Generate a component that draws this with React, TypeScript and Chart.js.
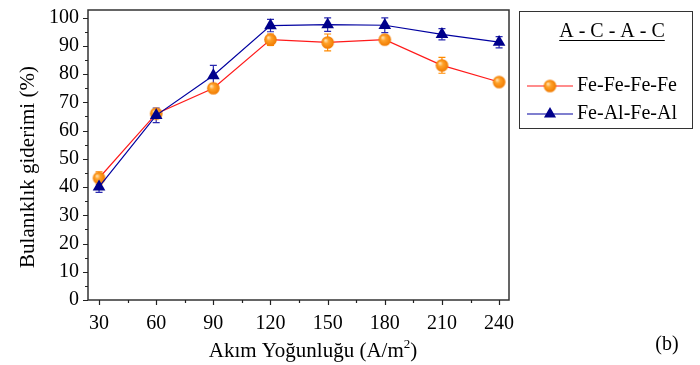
import React, { useEffect, useRef } from "react";
import { Chart, registerables } from "chart.js";

Chart.register(...registerables);

// ---- data ----
const currentDensity = [30, 60, 90, 120, 150, 180, 210, 240];
const feFeFeFe = [43.2, 66.0, 75.0, 92.2, 91.2, 92.2, 83.1, 77.2];
const feFeFeFeErr = [2.2, 1.0, 1.5, 2.0, 3.0, 1.5, 2.8, 0.5];
const feAlFeAl = [40.1, 65.4, 79.5, 97.2, 97.5, 97.3, 94.1, 91.3];
const feAlFeAlErr = [2.0, 2.6, 3.6, 2.2, 2.4, 2.6, 2.0, 2.0];
const xTicks = [30, 60, 90, 120, 150, 180, 210, 240];
const xMinorTicks = [45, 75, 105, 135, 165, 195, 225];
const yTicks = [0, 10, 20, 30, 40, 50, 60, 70, 80, 90, 100];
const yMinorTicks = [5, 15, 25, 35, 45, 55, 65, 75, 85, 95];
const seriesNames = ["Fe-Fe-Fe-Fe", "Fe-Al-Fe-Al"];
const legendTitle = "A - C - A - C";
const xTitleMain = "Akım Yoğunluğu (A/m";
const xTitleSup = "2";
const xTitleEnd = ")";
const yTitle = "Bulanıklık giderimi (%)";
const panelLabel = "(b)";

const FONT = "'Liberation Serif', 'Times New Roman', serif";
const RED = "#ff1a1a";
const ORANGE = "#ff8a00";
const BLUE = "#0000a0";
const DARKBLUE = "#00008b";

function makeSphere(r: number) {
  const c = document.createElement("canvas");
  const s = Math.ceil(r * 2 + 2);
  c.width = s;
  c.height = s;
  const g = c.getContext("2d")!;
  const cx = s / 2, cy = s / 2;
  const grad = g.createRadialGradient(cx - r * 0.35, cy - r * 0.35, 0.5, cx, cy, r);
  grad.addColorStop(0, "#ffe2b0");
  grad.addColorStop(0.35, "#ffa22a");
  grad.addColorStop(1, "#f07a00");
  g.fillStyle = grad;
  g.beginPath();
  g.arc(cx, cy, r, 0, Math.PI * 2);
  g.fill();
  return c;
}

function drawTriangle(ctx: CanvasRenderingContext2D, x: number, y: number, r: number, color: string) {
  ctx.save();
  ctx.fillStyle = color;
  ctx.beginPath();
  for (let i = 0; i < 3; i++) {
    const a = (i * 2 * Math.PI) / 3;
    const px = x + Math.sin(a) * r;
    const py = y - Math.cos(a) * r;
    if (i === 0) ctx.moveTo(px, py);
    else ctx.lineTo(px, py);
  }
  ctx.closePath();
  ctx.fill();
  ctx.restore();
}

export default function App() {
  const ref = useRef<HTMLCanvasElement | null>(null);

  useEffect(() => {
    if (!ref.current) return;
    const sphere = makeSphere(6.3);

    const decorPlugin = {
      id: "decor",
      beforeDatasetsDraw(chart: any) {
        const ctx = chart.ctx as CanvasRenderingContext2D;
        const xs = chart.scales.x;
        const ys = chart.scales.y;
        const sets = [
          { v: feFeFeFe, e: feFeFeFeErr, c: ORANGE },
          { v: feAlFeAl, e: feAlFeAlErr, c: "#2a2ab0" },
        ];
        ctx.save();
        ctx.lineWidth = 1.2;
        sets.forEach((s) => {
          ctx.strokeStyle = s.c;
          currentDensity.forEach((xv, i) => {
            const px = xs.getPixelForValue(xv);
            const top = ys.getPixelForValue(s.v[i] + s.e[i]);
            const bot = ys.getPixelForValue(s.v[i] - s.e[i]);
            ctx.beginPath();
            ctx.moveTo(px, top);
            ctx.lineTo(px, bot);
            ctx.moveTo(px - 3.5, top);
            ctx.lineTo(px + 3.5, top);
            ctx.moveTo(px - 3.5, bot);
            ctx.lineTo(px + 3.5, bot);
            ctx.stroke();
          });
        });
        ctx.restore();
      },
      afterDraw(chart: any) {
        const ctx = chart.ctx as CanvasRenderingContext2D;
        const a = chart.chartArea;
        const xs = chart.scales.x;
        const ys = chart.scales.y;
        ctx.save();
        // frame
        ctx.strokeStyle = "#333";
        ctx.lineWidth = 1.5;
        ctx.strokeRect(a.left, a.top, a.right - a.left, a.bottom - a.top);
        // ticks
        ctx.lineWidth = 1.2;
        ctx.strokeStyle = "#222";
        ctx.beginPath();
        xTicks.forEach((v) => {
          const p = Math.round(xs.getPixelForValue(v)) + 0.5;
          ctx.moveTo(p, a.bottom);
          ctx.lineTo(p, a.bottom + 5);
        });
        xMinorTicks.forEach((v) => {
          const p = Math.round(xs.getPixelForValue(v)) + 0.5;
          ctx.moveTo(p, a.bottom);
          ctx.lineTo(p, a.bottom + 3);
        });
        yTicks.forEach((v) => {
          const p = Math.round(ys.getPixelForValue(v)) + 0.5;
          ctx.moveTo(a.left, p);
          ctx.lineTo(a.left - 5, p);
        });
        yMinorTicks.forEach((v) => {
          const p = Math.round(ys.getPixelForValue(v)) + 0.5;
          ctx.moveTo(a.left, p);
          ctx.lineTo(a.left - 3, p);
        });
        ctx.stroke();

        // axis titles
        ctx.fillStyle = "#000";
        ctx.font = `21px ${FONT}`;
        ctx.textBaseline = "alphabetic";
        const wMain = ctx.measureText(xTitleMain).width;
        ctx.font = `13px ${FONT}`;
        const wSup = ctx.measureText(xTitleSup).width;
        ctx.font = `21px ${FONT}`;
        const wEnd = ctx.measureText(xTitleEnd).width;
        const total = wMain + wSup + wEnd;
        const cx = 313;
        const x0 = cx - total / 2;
        const base = 357;
        ctx.textAlign = "left";
        ctx.fillText(xTitleMain, x0, base);
        ctx.font = `13px ${FONT}`;
        ctx.fillText(xTitleSup, x0 + wMain, base - 9);
        ctx.font = `21px ${FONT}`;
        ctx.fillText(xTitleEnd, x0 + wMain + wSup, base);

        ctx.save();
        ctx.translate(34, 167);
        ctx.rotate(-Math.PI / 2);
        ctx.textAlign = "center";
        ctx.fillText(yTitle, 0, 0);
        ctx.restore();

        // panel label
        ctx.font = `20px ${FONT}`;
        ctx.textAlign = "center";
        ctx.fillText(panelLabel, 667, 350);

        // legend box
        ctx.strokeStyle = "#333";
        ctx.lineWidth = 1;
        ctx.strokeRect(519.5, 11.5, 173, 117);
        ctx.font = `20px ${FONT}`;
        ctx.textAlign = "center";
        ctx.fillText(legendTitle, 612, 37);
        const tw = ctx.measureText(legendTitle).width;
        ctx.beginPath();
        ctx.lineWidth = 1;
        ctx.strokeStyle = "#000";
        ctx.moveTo(612 - tw / 2, 40.5);
        ctx.lineTo(612 + tw / 2, 40.5);
        ctx.stroke();

        // entries
        ctx.lineWidth = 1.2;
        ctx.strokeStyle = RED;
        ctx.beginPath();
        ctx.moveTo(527, 86);
        ctx.lineTo(573, 86);
        ctx.stroke();
        ctx.drawImage(sphere, 550 - sphere.width / 2, 86 - sphere.height / 2);
        ctx.strokeStyle = BLUE;
        ctx.beginPath();
        ctx.moveTo(527, 114);
        ctx.lineTo(573, 114);
        ctx.stroke();
        drawTriangle(ctx, 550, 114, 7, DARKBLUE);
        ctx.fillStyle = "#000";
        ctx.textAlign = "left";
        ctx.textBaseline = "middle";
        ctx.fillText(seriesNames[0], 577, 86);
        ctx.fillText(seriesNames[1], 577, 114);
        ctx.restore();
      },
    };

    const tickFont = { family: FONT, size: 20 };

    const chart = new Chart(ref.current, {
      type: "line",
      data: {
        datasets: [
          {
            label: seriesNames[0],
            data: currentDensity.map((x, i) => ({ x, y: feFeFeFe[i] })),
            borderColor: RED,
            borderWidth: 1.2,
            pointStyle: sphere as any,
            pointRadius: 6,
            order: 1,
          },
          {
            label: seriesNames[1],
            data: currentDensity.map((x, i) => ({ x, y: feAlFeAl[i] })),
            borderColor: BLUE,
            borderWidth: 1.2,
            backgroundColor: DARKBLUE,
            pointBackgroundColor: DARKBLUE,
            pointBorderColor: DARKBLUE,
            pointBorderWidth: 0,
            pointStyle: "triangle",
            pointRadius: 7.3,
            order: 0,
          },
        ],
      },
      options: {
        animation: false,
        responsive: false,
        devicePixelRatio: 1,
        layout: { padding: { left: 8, right: 191, top: 10, bottom: 0 } },
        plugins: { legend: { display: false }, tooltip: { enabled: false } },
        scales: {
          x: {
            type: "linear",
            min: 24.2,
            max: 245.2,
            grid: { display: false, drawTicks: false },
            border: { display: false },
            ticks: { font: tickFont, color: "#000", padding: 12, maxRotation: 0, autoSkip: false },
            afterBuildTicks: (s: any) => {
              s.ticks = xTicks.map((v) => ({ value: v }));
            },
            afterFit: (s: any) => {
              s.height = 65;
              s.paddingLeft = 0;
              s.paddingRight = 0;
            },
          },
          y: {
            type: "linear",
            min: 0,
            max: 102.7,
            grid: { display: false, drawTicks: false },
            border: { display: false },
            ticks: { font: tickFont, color: "#000", padding: 9, autoSkip: false },
            afterBuildTicks: (s: any) => {
              s.ticks = yTicks.map((v) => ({ value: v }));
            },
            afterFit: (s: any) => {
              s.width = 80;
              s.paddingTop = 0;
              s.paddingBottom = 0;
            },
          },
        },
      },
      plugins: [decorPlugin],
    });
    return () => chart.destroy();
  }, []);

  return (
    <div style={{ position: "absolute", left: 0, top: 0, width: 700, height: 365, background: "#fff" }}>
      <canvas ref={ref} width={700} height={365} style={{ width: 700, height: 365, display: "block" }} />
    </div>
  );
}
